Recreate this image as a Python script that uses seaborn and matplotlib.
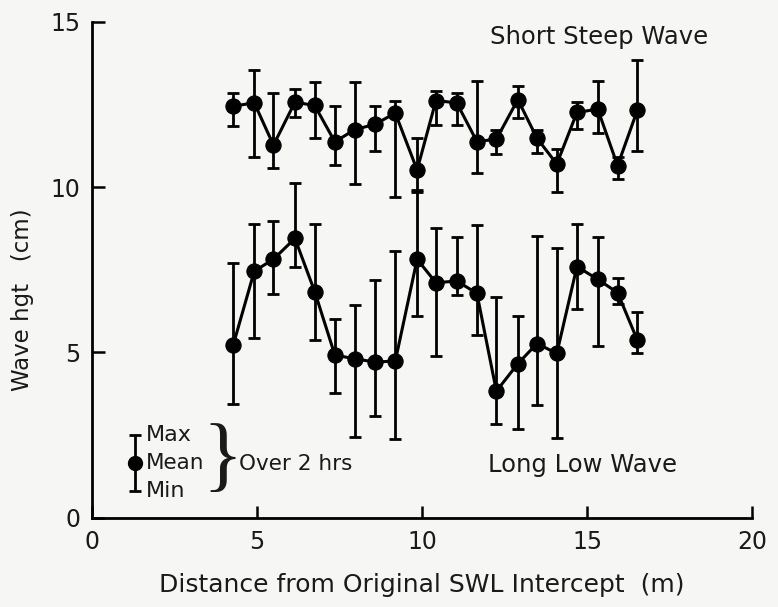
import numpy as np
import pandas as pd
import seaborn as sns
import matplotlib.pyplot as plt

# --- data ---
distance = [4.28, 4.92, 5.5, 6.15, 6.75, 7.36, 7.96, 8.57, 9.19, 9.85, 10.42,
            11.05, 11.66, 12.25, 12.9, 13.48, 14.08, 14.69, 15.32, 15.92, 16.52]

steep_mean = [12.45, 12.55, 11.27, 12.57, 12.47, 11.37, 11.74, 11.9, 12.24, 10.52, 12.62,
              12.55, 11.38, 11.45, 12.65, 11.48, 10.7, 12.26, 12.36, 10.65, 12.33]
steep_max = [12.85, 13.55, 12.84, 12.97, 13.19, 12.46, 13.17, 12.45, 12.6, 11.49, 12.9,
             12.84, 13.22, 11.73, 13.07, 11.74, 11.15, 12.57, 13.22, 10.92, 13.85]
steep_min = [11.85, 10.9, 10.57, 12.11, 11.49, 10.67, 10.11, 11.09, 9.71, 9.84, 11.89,
             11.89, 10.43, 11.0, 12.08, 11.03, 9.84, 11.76, 11.63, 10.24, 11.09]

low_mean = [5.22, 7.46, 7.82, 8.45, 6.84, 4.92, 4.81, 4.71, 4.74, 7.82, 7.11,
            7.16, 6.79, 3.83, 4.66, 5.27, 4.97, 7.6, 7.21, 6.81, 5.37]
low_max = [7.72, 8.88, 8.98, 10.14, 8.9, 6.02, 6.45, 7.19, 8.07, 9.9, 8.76,
           8.49, 8.86, 6.69, 6.1, 8.52, 8.15, 8.88, 8.48, 7.24, 6.23]
low_min = [3.44, 5.44, 6.76, 7.58, 5.37, 3.76, 2.43, 3.07, 2.38, 6.1, 4.89,
           6.74, 5.52, 2.85, 2.67, 3.42, 2.42, 6.3, 5.21, 6.48, 4.99]

series_names = ["Short Steep Wave", "Long Low Wave"]

# --- build long table for seaborn ---
df = pd.concat([
    pd.DataFrame({"dist": distance, "mean": steep_mean, "hi": steep_max,
                  "lo": steep_min, "wave": series_names[0]}),
    pd.DataFrame({"dist": distance, "mean": low_mean, "hi": low_max,
                  "lo": low_min, "wave": series_names[1]}),
])

sns.set_style("ticks")
plt.rcParams['font.family'] = ['DejaVu Sans']
bg = "#f6f6f4"
ink = "#1a1a1a"

fig = plt.figure(figsize=(7.78, 6.07), dpi=100, facecolor=bg)
ax = fig.add_axes([0.118, 0.147, 0.849, 0.817])
ax.set_facecolor(bg)

for name, grp in df.groupby("wave"):
    ax.errorbar(grp["dist"], grp["mean"],
                yerr=[grp["mean"] - grp["lo"], grp["hi"] - grp["mean"]],
                fmt="none", ecolor="black", elinewidth=2, capsize=4.5, capthick=2)
    sns.lineplot(data=grp, x="dist", y="mean", ax=ax, color="black", lw=2.2,
                 marker="o", markersize=11, markeredgecolor="black",
                 legend=False, sort=False)

ax.set_xlim(0, 20)
ax.set_ylim(0, 15)
ax.set_xticks([0, 5, 10, 15, 20])
ax.set_yticks([0, 5, 10, 15])
ax.tick_params(direction="in", length=9, width=1.8, labelsize=17,
               labelcolor=ink, color="black")
ax.tick_params(axis="y", pad=8)
ax.tick_params(axis="x", pad=9)
for s in ["left", "bottom"]:
    ax.spines[s].set_linewidth(2)
    ax.spines[s].set_color("black")
sns.despine(ax=ax)

ax.set_xlabel("Distance from Original SWL Intercept  (m)", fontsize=18, color=ink)
ax.xaxis.set_label_coords(0.5, -0.112)
ax.set_ylabel("Wave hgt   (cm)", fontsize=16.5, color=ink)
ax.yaxis.set_label_coords(-0.088, 0.44)

# series labels
ax.text(15.35, 14.55, series_names[0], fontsize=17.5, ha="center", va="center", color=ink)
ax.text(14.85, 1.6, series_names[1], fontsize=17.5, ha="center", va="center", color=ink)

# key in lower left
ax.errorbar([1.3], [1.67], yerr=[[0.87], [0.83]], fmt="o", color="black",
            markersize=10, elinewidth=2, capsize=4, capthick=2)
ax.text(1.65, 2.5, "Max", fontsize=16, ha="left", va="center", color=ink)
ax.text(1.65, 1.67, "Mean", fontsize=15.5, ha="left", va="center", color=ink)
ax.text(1.65, 0.8, "Min", fontsize=16, ha="left", va="center", color=ink)
ax.text(3.97, 1.72, "}", fontsize=60, ha="center", va="center", color=ink,
        family=["Liberation Serif", "DejaVu Serif"])
ax.text(4.47, 1.62, "Over 2 hrs", fontsize=15.5, ha="left", va="center", color=ink)

fig.savefig("out.png", dpi=100, facecolor=bg)
